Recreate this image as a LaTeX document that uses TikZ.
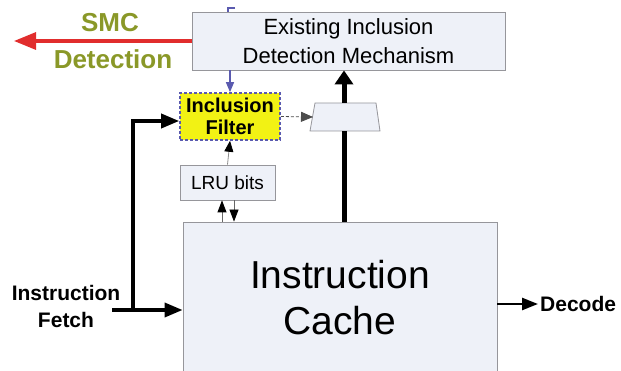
\documentclass[tikz,border=0pt]{standalone}
\usepackage{fontspec}
\setmainfont{Liberation Sans}
\usetikzlibrary{arrows.meta}
\definecolor{boxfill}{RGB}{238,241,248}
\definecolor{boxline}{RGB}{150,150,155}
\definecolor{olive}{RGB}{138,152,40}
\definecolor{smcred}{RGB}{225,45,45}
\definecolor{slate}{RGB}{90,90,175}
\definecolor{filteryellow}{RGB}{242,242,20}
\tikzset{
  plainbox/.style={draw=boxline, fill=boxfill, line width=0.8pt, inner sep=0pt, align=center},
  lbl/.style={font=\bfseries, align=center, inner sep=0pt}
}
\begin{document}
\begin{tikzpicture}[x=1pt,y=-1pt]
\useasboundingbox (0,0) rectangle (621,371);
\begin{scope}
\clip (0,0) rectangle (621,371);
% boxes
\node[plainbox, minimum width=313pt, minimum height=58pt, font=\fontsize{22}{29}\selectfont] (exist) at (348.5,41) {Existing Inclusion\\Detection Mechanism};
\node[plainbox, draw=slate, densely dashed, line width=1.6pt, fill=filteryellow, minimum width=100pt, minimum height=47pt, font=\fontsize{20}{22}\selectfont\bfseries] (filter) at (230,116.5) {Inclusion\\Filter};
\node[plainbox, minimum width=95pt, minimum height=35pt, font=\fontsize{19}{22}\selectfont] (lru) at (227.5,182.5) {LRU bits};
\node[plainbox, minimum width=314pt, minimum height=152pt, font=\fontsize{39}{46}\selectfont] (cache) at (340,298) {Instruction\\Cache};
% mux (trapezium)
\coordinate (mtl) at (315,103);
\coordinate (mtr) at (376,103);
\coordinate (mbr) at (380,131);
\coordinate (mbl) at (310,131);
\coordinate (muxN) at (344,103);
\coordinate (muxS) at (344,131);
\coordinate (muxW) at (313,117);
\draw[draw=boxline, fill=boxfill, line width=0.8pt] (mtl) -- (mtr) -- (mbr) -- (mbl) -- cycle;
% SMC detection
\node[lbl, text=olive, font=\fontsize{26}{30}\selectfont\bfseries] (smc) at (110,23) {SMC};
\node[lbl, text=olive, font=\fontsize{26}{30}\selectfont\bfseries] (det) at (113,59) {Detection};
\coordinate (smcend) at (14,41);
\draw[smcred, line width=3.2pt, -{Triangle[length=22pt,width=17pt]}] (exist.west) -- (smcend);
% blue stub above the existing box
\coordinate (stubtop) at (228,8);
\coordinate (stubtick) at (235,8);
\draw[slate, line width=1.2pt] (stubtick) -- (stubtop) -- (stubtop |- exist.north);
% blue arrow to filter
\draw[slate, line width=1.2pt, -{Triangle[length=10pt,width=8pt]}] (exist.south -| filter.north) -- (filter.north);
% filter to mux
\draw[black!70, densely dashed, line width=0.8pt, -{Triangle[length=12pt,width=10pt]}] (filter.east) -- (muxW);
% cache to mux to existing
\draw[line width=5pt] (cache.north -| muxS) -- (muxS);
\draw[line width=5pt, -{Triangle[length=14pt,width=18pt]}] (muxN) -- (muxN |- exist.south);
% LRU to filter
\draw[black!45, line width=0.8pt, -{Triangle[length=11pt,width=9pt,fill=black,color=black]}] (lru.north) -- (filter.south);
% LRU <-> cache
\coordinate (upx) at (222,0);
\coordinate (dnx) at (234,0);
\draw[black!60, line width=0.8pt, -{Triangle[length=12pt,width=9pt,fill=black,color=black]}] (cache.north -| upx) -- (lru.south -| upx);
\draw[black!60, line width=0.8pt, -{Triangle[length=12pt,width=9pt,fill=black,color=black]}] (lru.south -| dnx) -- (cache.north -| dnx);
% instruction fetch
\node[lbl, font=\fontsize{21}{27}\selectfont\bfseries] (fetch) at (66,306) {Instruction\\Fetch};
\coordinate (fetchstart) at (112,310);
\coordinate (junction) at (133,310);
\coordinate (corner) at (133,121);
\draw[line width=3.5pt, -{Triangle[length=18pt,width=14pt]}] (fetchstart) -- (fetchstart -| cache.west);
\draw[line width=3.5pt, -{Triangle[length=18pt,width=14pt]}] (junction) -- (corner) -- (corner -| filter.west);
% decode
\coordinate (decend) at (538,304);
\draw[line width=2.5pt, -{Triangle[length=16pt,width=12pt]}] (decend -| cache.east) -- (decend);
\node[lbl, anchor=west, font=\fontsize{21}{24}\selectfont\bfseries] (decode) at (540,304) {Decode};
\end{scope}
\end{tikzpicture}
\end{document}
